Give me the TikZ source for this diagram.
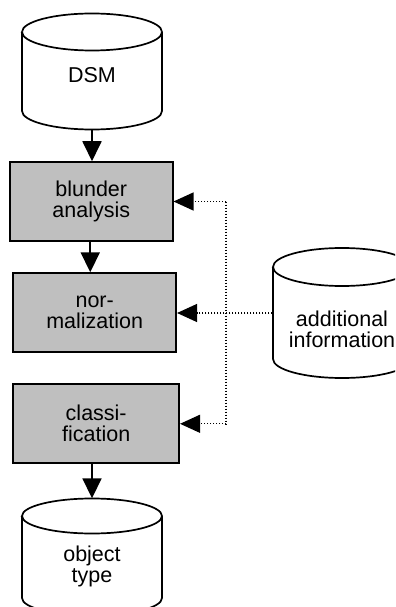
\documentclass[tikz,border=0pt]{standalone}
\usepackage{fontspec}
\setmainfont{Liberation Sans}
\usetikzlibrary{arrows.meta}
\newcommand\drawcyl[5]{% cx, top center y, bottom center y, rx, ry
  \filldraw[cylline] (#1-#4,#2) -- (#1-#4,#3)
    arc[start angle=180,end angle=360,x radius=#4bp,y radius=#5bp]
    -- (#1+#4,#2)
    arc[start angle=0,end angle=180,x radius=#4bp,y radius=#5bp] -- cycle;
  \draw[cylline] (#1-#4,#2) arc[start angle=180,end angle=360,x radius=#4bp,y radius=#5bp];
}
\tikzset{
  txt/.style={font=\fontsize{21.5bp}{21bp}\selectfont, align=center, inner sep=0pt},
  procbox/.style={draw=black, line width=2bp, fill=black!25, minimum width=163bp, minimum height=79bp, inner sep=0pt, font=\fontsize{21.5bp}{21bp}\selectfont, align=center},
  cylline/.style={draw=black, fill=white, line width=1.7bp},
  cylbox/.style={inner sep=0pt, minimum width=139bp},
  flow/.style={line width=1.8bp, -{Triangle[length=20bp,width=19bp]}},
  infoflow/.style={line width=1.2bp, dash pattern=on 1.2bp off 1.8bp},
  infoarrow/.style={infoflow, -{Triangle[length=20bp,width=18bp]}}
}
\begin{document}
\begin{tikzpicture}[x=1bp,y=-1bp]
\useasboundingbox (0,0) rectangle (395,607);
\clip (0,0) rectangle (395,607);
\fill[white] (0,0) rectangle (395,607);

% cylinders
\drawcyl{92}{32}{111}{70}{18.5}
\node[cylbox, minimum height=116bp] (dsm) at (92,71.5) {};
\node[txt] (dsmlabel) at (92,75.5) {DSM};

\drawcyl{342}{267}{359}{69}{19}
\node[cylbox, minimum height=130bp] (info) at (342,313) {};
\node[txt] (infolabel) at (342,329) {additional\\information};

\drawcyl{92}{516}{598}{70}{17.5}
\node[cylbox, minimum height=117bp] (obj) at (92,557) {};
\node[txt] (objlabel) at (92,566) {object\\type};

% process boxes
\node[procbox, minimum width=162.5bp, minimum height=78.5bp] (b1) at (91.25,201.5) {blunder\\analysis};
\node[procbox, minimum width=162.7bp] (b2) at (94.7,312.8) {nor-\\malization};
\node[procbox, minimum width=165.7bp] (b3) at (96.2,423.8) {classi-\\fication};

% solid flow
\draw[flow] (dsm.south) -- (dsm.south |- b1.north);
\draw[flow] ([xshift=-1bp]b1.south) -- ([xshift=-1bp]b1.south |- b2.north);
\draw[flow] (b3.south -| dsm.south) -- (obj.north);

% dotted information flow
\coordinate (vx) at (226,0);
\draw[infoflow] (vx |- b1.east) -- (vx |- b3.east);
\draw[infoarrow] (vx |- b1.east) -- (b1.east);
\draw[infoarrow] (info.west) -- (info.west -| b2.east);
\draw[infoarrow] (vx |- b3.east) -- (b3.east);
\end{tikzpicture}
\end{document}
